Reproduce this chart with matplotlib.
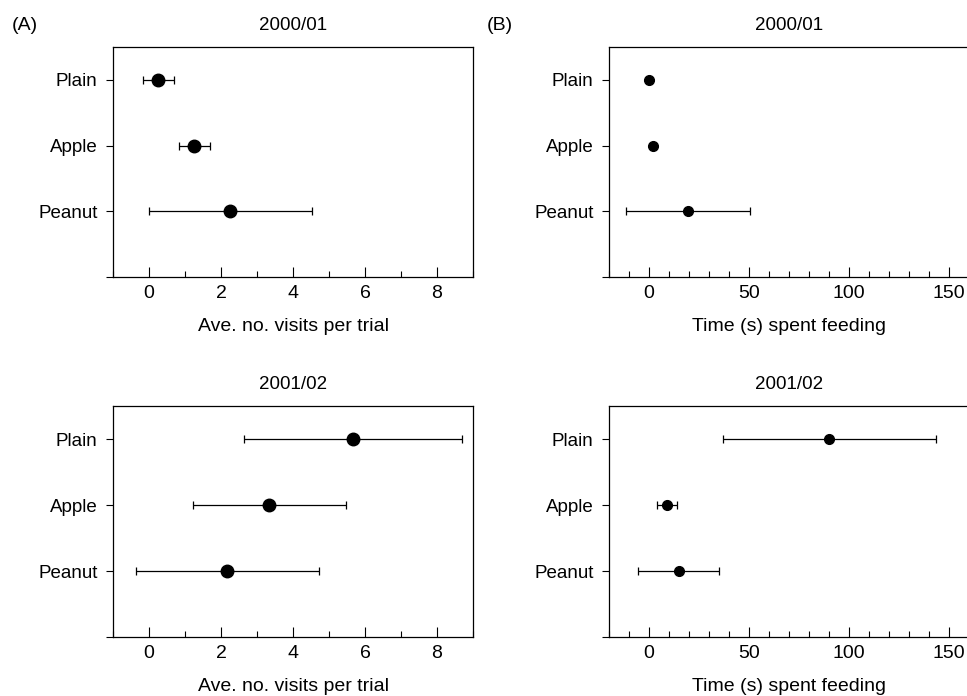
import matplotlib
matplotlib.use("Agg")
import matplotlib.pyplot as plt
from matplotlib.ticker import MultipleLocator

plt.rcParams['font.family'] = ['Liberation Sans', 'DejaVu Sans']

foods = ["Peanut", "Apple", "Plain"]
ypos = [1, 2, 3]

# (A) average number of visits per trial
visits_0001 = [2.26, 1.26, 0.26]
visits_0001_err = [2.27, 0.43, 0.44]
visits_0102 = [2.17, 3.34, 5.67]
visits_0102_err = [2.54, 2.13, 3.02]

# (B) time spent feeding (s)
time_0001 = [19.7, 1.8, 0.2]
time_0001_err = [31.0, 0.0, 0.0]
time_0102 = [14.8, 9.2, 90.2]
time_0102_err = [20.2, 5.0, 53.3]

W, H = 967, 696
fig = plt.figure(figsize=(W / 100, H / 100), dpi=100)


def make_ax(left, top, bottom, width=360):
    return fig.add_axes([left / W, 1 - bottom / H, width / W, (bottom - top) / H])


def style(ax, xlim, major, minor, title, xlabel, xc=0.5):
    ax.set_xlim(*xlim)
    ax.set_ylim(0, 3.5)
    ax.xaxis.set_major_locator(MultipleLocator(major))
    ax.xaxis.set_minor_locator(MultipleLocator(minor))
    ax.set_yticks([0] + ypos)
    ax.set_yticklabels([""] + foods)
    ax.tick_params(axis="x", which="major", direction="in", length=7, width=0.8,
                   labelsize=14, pad=6)
    ax.tick_params(axis="x", which="minor", direction="in", length=4, width=0.8)
    ax.tick_params(axis="y", direction="out", length=5, width=0.8, labelsize=13.5, pad=6)
    for s in ax.spines.values():
        s.set_linewidth(0.9)
    ax.set_title(title, fontsize=13.5, pad=12, x=xc)
    ax.set_xlabel(xlabel, fontsize=14, labelpad=11)
    ax.xaxis.label.set_x(xc)


def draw(ax, vals, errs, ms):
    ax.errorbar(vals, ypos, xerr=errs, fmt="o", color="black", ms=ms,
                elinewidth=0.9, capsize=3, capthick=0.9, zorder=3)


ax1 = make_ax(113, 47, 277)
draw(ax1, visits_0001, visits_0001_err, 9)
style(ax1, (-1, 9), 2, 1, "2000/01", "Ave. no. visits per trial")

# right-hand panels run past the edge of the figure, as in the original
ax2 = make_ax(609, 47, 277, width=364)
draw(ax2, time_0001, time_0001_err, 7)
style(ax2, (-20, 162), 50, 10, "2000/01", "Time (s) spent feeding", xc=180 / 364)

ax3 = make_ax(113, 406, 637)
draw(ax3, visits_0102, visits_0102_err, 9)
style(ax3, (-1, 9), 2, 1, "2001/02", "Ave. no. visits per trial")

ax4 = make_ax(609, 406, 637, width=364)
draw(ax4, time_0102, time_0102_err, 7)
style(ax4, (-20, 162), 50, 10, "2001/02", "Time (s) spent feeding", xc=180 / 364)

fig.text(12 / W, 1 - 25 / H, "(A)", fontsize=14, va="center", ha="left")
fig.text(487 / W, 1 - 25 / H, "(B)", fontsize=14, va="center", ha="left")

fig.savefig("out.png", dpi=100)
